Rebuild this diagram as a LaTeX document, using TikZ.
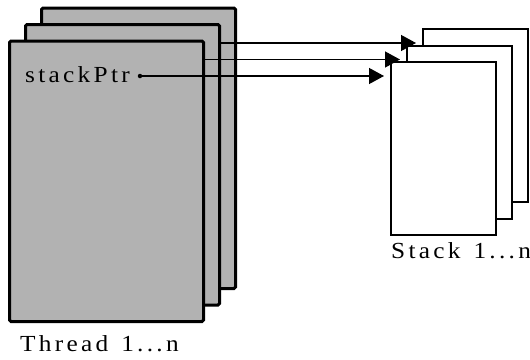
\documentclass[tikz,border=0pt]{standalone}
\usepackage{fontspec}
\setmainfont{Liberation Serif}[FakeStretch=1.1]
\usetikzlibrary{arrows.meta}
\newcommand\lsp[1]{\lspA#1\relax}
\def\lspA#1#2{#1\ifx#2\relax\else\kern3.3pt\expandafter\lspA\expandafter#2\fi}
\begin{document}
\begin{tikzpicture}[x=1pt,y=-1pt,
  thread/.style={draw=black,fill=black!30,line width=3pt,rounded corners=1.5pt,
    minimum width=194pt,minimum height=280.5pt,anchor=north west,inner sep=0pt,outer sep=0pt},
  stackbox/.style={draw=black,fill=white,line width=2pt,
    minimum width=105pt,minimum height=173pt,anchor=north west,inner sep=0pt,outer sep=0pt},
  ptr/.style={line width=1.3pt,-{Triangle[length=15pt,width=16pt]},shorten >=7pt},
  lbl/.style={font=\fontsize{23pt}{26pt}\selectfont,inner sep=0pt,anchor=base west}]
\useasboundingbox (0,0) rectangle (530,359);
% stacks
\node[stackbox] (s3) at (423,29) {};
\node[stackbox] (s2) at (407,45.5) {};
\node[stackbox] (s1) at (391,62) {};
% back thread
\node[thread] (t3) at (41.5,8) {};
\coordinate (p3) at (172,43);
\draw[ptr] (p3) -- (p3 -| s3.west);
% middle thread
\node[thread] (t2) at (25.5,24.5) {};
\coordinate (p2) at (156,59.5);
\draw[ptr] (p2) -- (p2 -| s2.west);
% front thread
\node[thread] (t1) at (9.5,41) {};
\node[lbl] (sp) at (25,82) {\lsp{stackPtr}};
\node[circle,fill=black,inner sep=0pt,minimum size=4.5pt] (dot) at (140,76) {};
\draw[ptr] (dot.center) -- (dot.center -| s1.west);
% labels
\node[lbl] (tl) at (20,351) {\lsp{Thread~1...n}};
\node[lbl] (sl) at (391,258) {\lsp{Stack~1...n}};
\end{tikzpicture}
\end{document}
